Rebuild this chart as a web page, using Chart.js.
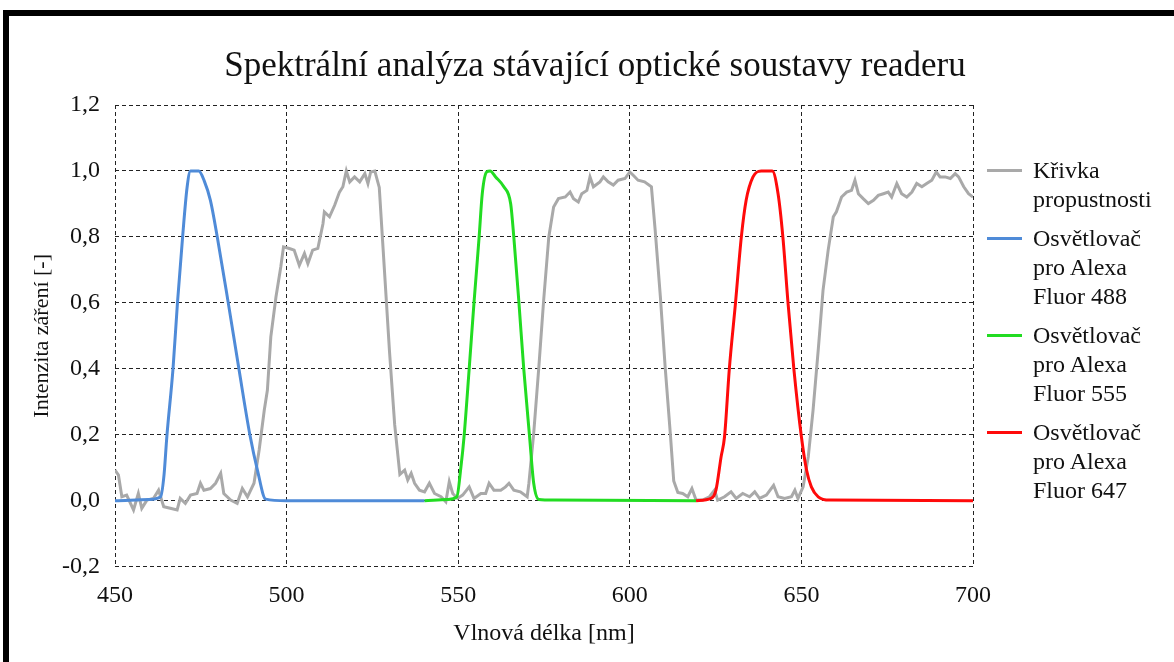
<!DOCTYPE html>
<html lang="cs">
<head>
<meta charset="utf-8">
<script src="https://cdn.jsdelivr.net/npm/chart.js@4"></script>
<style>
  html, body { margin: 0; padding: 0; background: #fff; overflow: hidden; }
  #wrap { position: relative; width: 1174px; height: 662px; }
  #frame { position: absolute; left: 3px; top: 10px; width: 1300px; height: 800px;
           border: 6px solid #000; box-sizing: border-box; }
  canvas { position: absolute; left: 0; top: 0; }
  #legend { position: absolute; left: 987px; top: 156px;
            font-family: 'Liberation Serif', 'DejaVu Serif', 'Times New Roman', Times, serif; font-size: 24px; color: #111; }
  .item { position: relative; padding-left: 46px; line-height: 29px; margin-bottom: 10px; white-space: pre-line; }
  .item .sw { position: absolute; left: 0; top: 13px; width: 35px; height: 3px; }
</style>
</head>
<body>
<div id="wrap">
  <div id="frame"></div>
  <canvas id="c" width="1174" height="662"></canvas>
  <div id="legend"></div>
</div>
<script>
// --- DONNÉES ---
const xTicks = [450, 500, 550, 600, 650, 700];
const yTicks = [-0.2, 0, 0.2, 0.4, 0.6, 0.8, 1.0, 1.2];

const labels = [
  'Křivka\npropustnosti',
  'Osvětlovač\npro Alexa\nFluor 488',
  'Osvětlovač\npro Alexa\nFluor 555',
  'Osvětlovač\npro Alexa\nFluor 647'
];
const colors = ['#a9a9a9', '#4f8bd8', '#22dc22', '#ff0a0a'];

// Křivka propustnosti (gray)
const grayNm = [450.0, 451.0, 452.0, 453.4, 455.4, 456.8, 457.8, 459.3, 461.2, 462.7, 464.2, 466.1, 468.1, 469.0, 470.5,
  472.0, 473.9, 474.9, 475.9, 477.8, 479.3, 480.8, 481.7, 483.7, 485.6, 487.1, 488.6, 490.5, 492.0, 493.5,
  494.4, 495.4, 496.9, 498.3, 499.1, 500.8, 502.2, 503.7, 505.2, 506.2, 507.6, 509.1, 510.6, 511.0, 512.5,
  514.0, 515.4, 516.4, 517.4, 518.4, 519.8, 521.3, 522.8, 523.7, 524.5, 525.7, 527.0, 528.5, 530.0, 531.5,
  533.0, 534.4, 535.3, 536.3, 537.3, 538.7, 540.2, 541.6, 543.1, 545.0, 546.4, 547.4, 548.4, 549.8, 551.3,
  553.2, 554.6, 556.6, 558.0, 559.0, 560.4, 562.4, 563.8, 564.8, 566.2, 568.1, 570.1, 570.6, 572.0, 573.5,
  574.9, 576.4, 577.8, 579.2, 581.2, 582.6, 583.6, 585.0, 586.0, 587.5, 588.4, 589.4, 591.3, 592.3, 593.7,
  595.2, 596.6, 598.6, 600.0, 601.0, 602.4, 604.3, 606.3, 607.4, 608.9, 610.3, 611.8, 612.8, 614.0, 615.4,
  616.9, 618.1, 619.3, 621.2, 623.2, 624.7, 625.6, 627.6, 629.5, 631.0, 632.9, 634.9, 636.4, 637.8, 639.8,
  641.9, 643.2, 645.1, 647.1, 648.1, 649.0, 650.5, 652.0, 653.4, 654.9, 656.3, 657.8, 659.3, 660.2, 661.7,
  663.2, 664.6, 665.6, 666.6, 668.0, 669.5, 671.0, 672.4, 673.9, 675.3, 676.3, 677.8, 679.2, 680.7, 682.2,
  683.6, 685.1, 686.5, 688.0, 689.3, 690.4, 691.9, 693.4, 694.8, 695.8, 697.3, 698.7, 700.0];
const grayVal = [0.093, 0.078, 0.012, 0.017, -0.028, 0.022, -0.023, 0.002, 0.007, 0.032, -0.018, -0.023, -0.028, 0.007, -0.008,
  0.017, 0.022, 0.053, 0.032, 0.037, 0.053, 0.083, 0.022, 0.002, -0.008, 0.037, 0.012, 0.053, 0.154, 0.275,
  0.335, 0.497, 0.618, 0.709, 0.770, 0.765, 0.760, 0.714, 0.750, 0.719, 0.760, 0.765, 0.840, 0.876, 0.861,
  0.896, 0.936, 0.952, 1.000, 0.967, 0.982, 0.967, 0.992, 0.962, 0.997, 1.000, 0.950, 0.700, 0.450, 0.230,
  0.080, 0.093, 0.063, 0.083, 0.053, 0.032, 0.027, 0.053, 0.022, 0.012, -0.003, 0.058, 0.022, 0.007, 0.017,
  0.042, 0.007, 0.022, 0.022, 0.053, 0.032, 0.032, 0.042, 0.053, 0.032, 0.027, 0.012, 0.053, 0.204, 0.406,
  0.608, 0.800, 0.891, 0.916, 0.921, 0.936, 0.916, 0.906, 0.931, 0.941, 0.982, 0.952, 0.967, 0.982, 0.967,
  0.957, 0.972, 0.977, 0.997, 0.987, 0.972, 0.967, 0.952, 0.820, 0.620, 0.406, 0.204, 0.060, 0.025, 0.022,
  0.012, 0.037, 0.002, 0.002, 0.012, 0.032, 0.002, 0.012, 0.027, 0.007, 0.022, 0.012, 0.027, 0.007, 0.017,
  0.047, 0.012, 0.007, 0.012, 0.032, 0.007, 0.042, 0.133, 0.275, 0.457, 0.638, 0.760, 0.861, 0.876, 0.921,
  0.936, 0.941, 0.972, 0.931, 0.916, 0.901, 0.911, 0.926, 0.931, 0.936, 0.921, 0.962, 0.931, 0.921, 0.936,
  0.962, 0.952, 0.962, 0.972, 0.997, 0.982, 0.982, 0.977, 0.992, 0.982, 0.952, 0.931, 0.921];

// Osvětlovač 488 (blue)
const blueNm  = [450, 460, 463.3, 464.3, 465.1, 466.9, 468.2, 469.7, 471.0, 472.0, 474.4, 476.0, 477.8, 479.8, 483.0, 486.1, 489.3, 491.5, 493.9, 500, 540.2];
const blueVal = [0, 0.004, 0.012, 0.08, 0.194, 0.40, 0.60, 0.80, 0.95, 1.0, 1.0, 0.97, 0.911, 0.80, 0.60, 0.40, 0.20, 0.093, 0.005, 0, 0];

// Osvětlovač 555 (green)
const greenNm  = [540.2, 546.9, 549.6, 550.8, 551.7, 553.2, 554.6, 556.1, 557.0, 558.3, 559.3, 560.9, 563.3, 565.3, 566.2, 567.7, 569.1, 570.8, 572.0, 573.5, 577.8, 619.3];
const greenVal = [0, 0.004, 0.012, 0.103, 0.194, 0.40, 0.60, 0.80, 0.93, 0.997, 1.0, 0.982, 0.952, 0.90, 0.80, 0.60, 0.40, 0.194, 0.053, 0.004, 0.002, 0];

// Osvětlovač 647 (red)
const redNm  = [619.3, 623.7, 625.1, 626.6, 627.6, 629.0, 630.8, 632.5, 633.9, 635.9, 638.3, 641.5, 643.2, 644.6, 646.1, 647.8, 650.0, 651.5, 652.9, 654.9, 658.3, 700];
const redVal = [0, 0.007, 0.032, 0.133, 0.194, 0.40, 0.60, 0.80, 0.911, 0.982, 1.0, 1.0, 0.931, 0.80, 0.60, 0.40, 0.194, 0.093, 0.042, 0.012, 0.002, 0];

// --- CONSTRUCTION ---
const pts = (xs, ys) => xs.map((x, i) => ({ x: x, y: ys[i] }));
const serif = "'Liberation Serif', 'DejaVu Serif', 'Times New Roman', Times, serif";

function ds(i, data, smooth, order) {
  return {
    label: labels[i].replace(/\n/g, ' '),
    data: data,
    borderColor: colors[i],
    backgroundColor: colors[i],
    borderWidth: 3,
    pointRadius: 0,
    tension: 0,
    cubicInterpolationMode: smooth ? 'monotone' : 'default',
    order: order,
    yAxisID: 'y'
  };
}

const grid = { color: '#222', lineWidth: 1, drawTicks: false, tickLength: 0 };
const dashed = { display: false, dash: [4, 3] };

const chart = new Chart(document.getElementById('c'), {
  type: 'line',
  data: {
    datasets: [
      ds(0, pts(grayNm, grayVal), false, 4),
      ds(1, pts(blueNm, blueVal), true, 3),
      ds(2, pts(greenNm, greenVal), true, 2),
      ds(3, pts(redNm, redVal), true, 1)
    ]
  },
  options: {
    responsive: false,
    animation: false,
    layout: { padding: { left: 16, right: 0, top: 0, bottom: 0 } },
    plugins: {
      legend: { display: false },
      tooltip: { enabled: false },
      title: {
        display: true,
        text: 'Spektrální analýza stávající optické soustavy readeru',
        color: '#111',
        font: { family: serif, size: 35, weight: 'normal' },
        padding: { top: 46, bottom: 17 }
      }
    },
    scales: {
      x: {
        type: 'linear',
        min: 450, max: 700,
        afterBuildTicks: s => { s.ticks = xTicks.map(v => ({ value: v })); },
        afterFit: s => { s.height = 95.3; },
        border: dashed,
        grid: grid,
        ticks: {
          color: '#111', padding: 15,
          font: { family: serif, size: 24 },
          maxRotation: 0
        },
        title: {
          display: true, text: 'Vlnová délka [nm]', color: '#111',
          font: { family: serif, size: 24 },
          padding: { top: 0, bottom: 14 }
        }
      },
      y: {
        min: -0.2, max: 1.2,
        afterBuildTicks: s => { s.ticks = yTicks.map(v => ({ value: v })); },
        afterFit: s => { s.width = 99; },
        border: dashed,
        grid: grid,
        ticks: {
          color: '#111', padding: 15,
          font: { family: serif, size: 24 },
          callback: v => v.toFixed(1).replace('.', ',')
        },
        title: {
          display: true, text: 'Intenzita záření [-]', color: '#111',
          font: { family: serif, size: 22 },
          padding: { top: 13, bottom: 0 }
        }
      },
      // espace réservé pour la légende à droite
      legendSpace: {
        position: 'right',
        min: 0, max: 1,
        afterFit: s => { s.width = 201; },
        border: { display: false },
        grid: { display: false, drawTicks: false },
        ticks: { display: false }
      }
    }
  }
});

// Légende HTML (multi-lignes)
const legendEl = document.getElementById('legend');
labels.forEach((txt, i) => {
  const div = document.createElement('div');
  div.className = 'item';
  div.innerHTML = `<span class="sw" style="background:${colors[i]}"></span>${txt}`;
  legendEl.appendChild(div);
});
</script>
</body>
</html>
